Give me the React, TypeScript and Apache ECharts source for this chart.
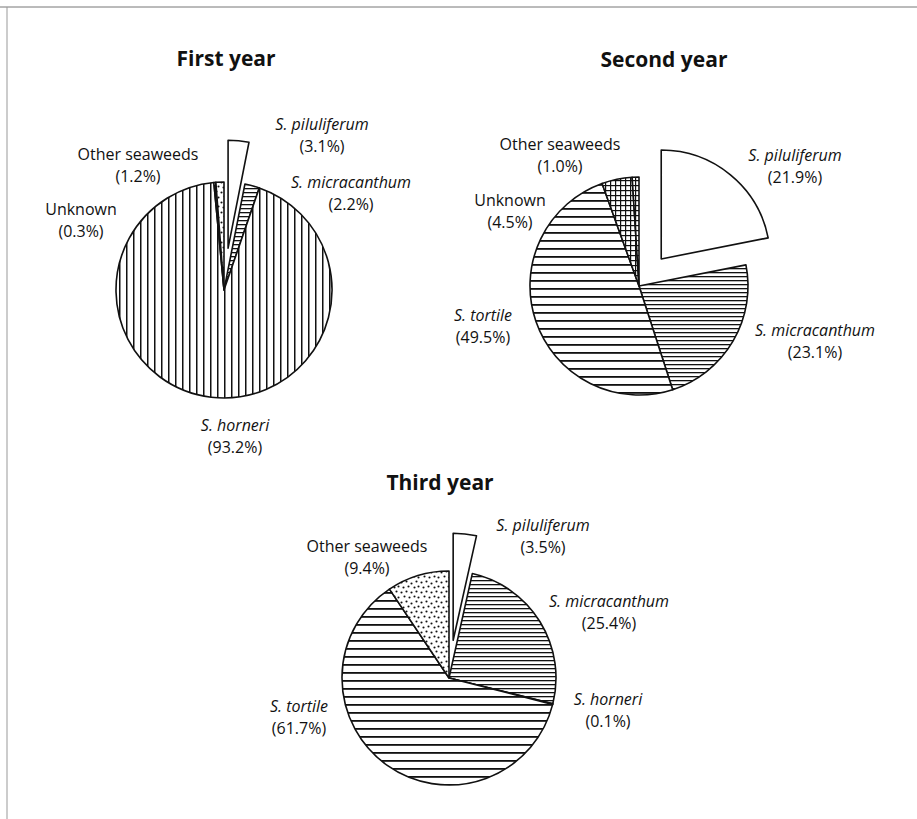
import React, { useEffect, useRef } from "react";
import * as echarts from "echarts";

// ---------- data ----------
const titles = ["First year", "Second year", "Third year"];
const year1Names = ["S. piluliferum", "S. micracanthum", "S. horneri", "Unknown", "Other seaweeds"];
const year1Values = [3.1, 2.2, 93.2, 0.3, 1.2];
const year2Names = ["S. piluliferum", "S. micracanthum", "S. tortile", "Unknown", "Other seaweeds"];
const year2Values = [21.9, 23.1, 49.5, 4.5, 1.0];
const year3Names = ["S. piluliferum", "S. micracanthum", "S. horneri", "S. tortile", "Other seaweeds"];
const year3Values = [3.5, 25.4, 0.1, 61.7, 9.4];
const explodedName = "S. piluliferum";
const italicNames = ["S. piluliferum", "S. micracanthum", "S. horneri", "S. tortile"];

// ---------- layout / style ----------
const pieLayout = [
  { center: [224, 290], radius: 108, offset: 42, title: [226, 58] },
  { center: [639, 286], radius: 109, offset: 35, title: [664, 59] },
  { center: [449, 678], radius: 107, offset: 38, title: [440, 482] },
];
const labelPos: Record<string, number[]>[] = [
  {
    "S. piluliferum": [322, 124],
    "S. micracanthum": [351, 182],
    "S. horneri": [235, 425],
    Unknown: [81, 209],
    "Other seaweeds": [138, 154],
  },
  {
    "S. piluliferum": [795, 155],
    "S. micracanthum": [815, 330],
    "S. tortile": [483, 315],
    Unknown: [510, 200],
    "Other seaweeds": [560, 144],
  },
  {
    "S. piluliferum": [543, 525],
    "S. micracanthum": [609, 601],
    "S. horneri": [608, 699],
    "S. tortile": [299, 706],
    "Other seaweeds": [367, 546],
  },
];
const FONT = '"Open Sans", "Noto Sans", sans-serif';

function makeCanvas(w: number, h: number, draw: (ctx: CanvasRenderingContext2D) => void) {
  const c = document.createElement("canvas");
  c.width = w;
  c.height = h;
  const ctx = c.getContext("2d")!;
  ctx.fillStyle = "#ffffff";
  ctx.fillRect(0, 0, w, h);
  ctx.fillStyle = "#111111";
  draw(ctx);
  return c;
}

function patterns() {
  const hDense = makeCanvas(4, 4, (ctx) => ctx.fillRect(0, 0, 4, 1.3));
  const hWide = makeCanvas(8, 8, (ctx) => ctx.fillRect(0, 0, 8, 1.8));
  const vLines = makeCanvas(7, 7, (ctx) => ctx.fillRect(0, 0, 1.5, 7));
  const grid = makeCanvas(5, 5, (ctx) => {
    ctx.fillRect(0, 0, 5, 1.2);
    ctx.fillRect(0, 0, 1.2, 5);
  });
  const dotPts = [
    [1, 2], [6, 1], [11, 3], [16, 1], [3, 7], [8, 6], [14, 7], [18, 6],
    [1, 12], [6, 11], [11, 12], [16, 11], [4, 16], [9, 17], [14, 16], [18, 17],
  ];
  const dots = makeCanvas(20, 20, (ctx) => {
    dotPts.forEach(([x, y]) => {
      ctx.beginPath();
      ctx.arc(x + 0.5, y + 0.5, 1.05, 0, Math.PI * 2);
      ctx.fill();
    });
  });
  const pat = (img: HTMLCanvasElement) => ({ image: img, repeat: "repeat" });
  return {
    "S. piluliferum": "#ffffff",
    "S. micracanthum": pat(hDense),
    "S. horneri": pat(vLines),
    "S. tortile": pat(hWide),
    Unknown: pat(grid),
    "Other seaweeds": pat(dots),
    grid: pat(grid),
  } as Record<string, any>;
}

export default function App() {
  const ref = useRef<HTMLDivElement>(null);
  useEffect(() => {
    if (!ref.current) return;
    const chart = echarts.init(ref.current, undefined, { renderer: "svg" });
    const fills = patterns();
    const years = [
      { names: year1Names, values: year1Values },
      { names: year2Names, values: year2Values },
      { names: year3Names, values: year3Values },
    ];

    const series = years.map((y, i) => ({
      type: "pie",
      center: pieLayout[i].center,
      radius: [0, pieLayout[i].radius],
      startAngle: 90,
      clockwise: true,
      selectedMode: "multiple",
      selectedOffset: pieLayout[i].offset,
      avoidLabelOverlap: false,
      label: { show: false },
      labelLine: { show: false },
      emphasis: { disabled: true },
      silent: true,
      itemStyle: { borderColor: "#111", borderWidth: 1.6 },
      data: y.names.map((n, k) => ({
        name: n,
        value: y.values[k],
        selected: n === explodedName,
        itemStyle: {
          color: i === 1 && n === "Other seaweeds" ? fills.grid : fills[n],
        },
      })),
    }));

    const graphic: any[] = [
      { type: "line", shape: { x1: 0, y1: 7, x2: 917, y2: 7 }, style: { stroke: "#777", lineWidth: 1 } },
      { type: "line", shape: { x1: 7, y1: 7, x2: 7, y2: 819 }, style: { stroke: "#999", lineWidth: 1 } },
    ];
    titles.forEach((t, i) => {
      graphic.push({
        type: "text",
        x: pieLayout[i].title[0],
        y: pieLayout[i].title[1],
        style: {
          text: t,
          fontFamily: FONT,
          fontSize: 21,
          fontWeight: "bold",
          fill: "#111",
          align: "center",
          verticalAlign: "middle",
        },
      });
    });
    years.forEach((y, i) => {
      y.names.forEach((n, k) => {
        const p = labelPos[i][n];
        if (!p) return;
        graphic.push({
          type: "text",
          x: p[0],
          y: p[1],
          style: {
            text: n,
            fontFamily: FONT,
            fontSize: 16,
            fontStyle: italicNames.includes(n) ? "italic" : "normal",
            fill: "#111",
            align: "center",
            verticalAlign: "middle",
          },
        });
        graphic.push({
          type: "text",
          x: p[0],
          y: p[1] + 22,
          style: {
            text: `(${y.values[k].toFixed(1)}%)`,
            fontFamily: FONT,
            fontSize: 16,
            fill: "#111",
            align: "center",
            verticalAlign: "middle",
          },
        });
      });
    });

    chart.setOption({
      animation: false,
      backgroundColor: "#ffffff",
      series,
      graphic,
    } as any);
    return () => chart.dispose();
  }, []);
  return (
    <div
      ref={ref}
      style={{ position: "absolute", left: 0, top: 0, width: 917, height: 819 }}
    />
  );
}
